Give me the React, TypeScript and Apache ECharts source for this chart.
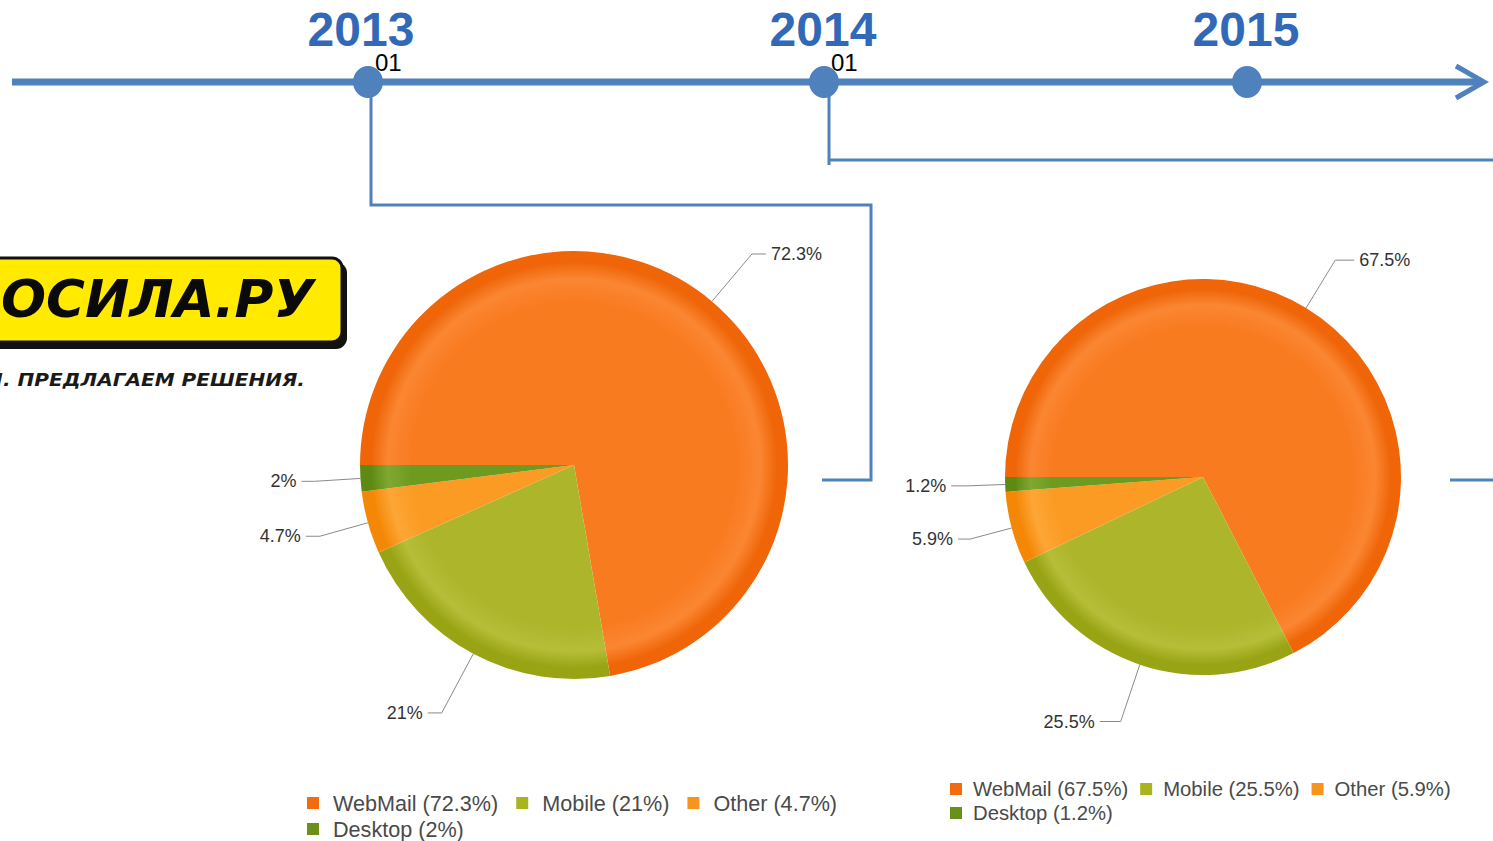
import React, { useEffect, useRef } from 'react';
import * as echarts from 'echarts';

// ---- data ----
const categories = ['WebMail', 'Mobile', 'Other', 'Desktop'];
const share2013 = [72.3, 21, 4.7, 2];
const share2014 = [67.5, 25.5, 5.9, 1.2];
const years = ['2013', '2014', '2015'];
const monthLabels = ['01', '01', ''];

// ---- styling ----
const baseColors = ['#F97B20', '#ADB52B', '#FB9B24', '#6E9A20'];
const lightColors = ['#FB8632', '#B6BD38', '#FDA636', '#80A830'];
const rimColors = ['#EF6508', '#99A414', '#F48806', '#5E8A14'];
const legendColors = ['#F26B0E', '#A8B51E', '#F7941D', '#6A8F1A'];
const blue = '#4F81BD';
const yearBlue = '#3169B8';

// label leader line lengths per slice [length, length2]
const lineLens2013 = [[62, 14], [67, 14], [50, 14], [46, 13]];
const lineLens2014 = [[56, 19], [60, 21], [43, 12], [38, 16]];

const yearX = [368, 824, 1247];
const yearTextX = [361, 823, 1246];

function grad(i: number, cx: number, cy: number, r: number) {
  return new echarts.graphic.RadialGradient(
    cx,
    cy,
    r,
    [
      { offset: 0, color: baseColors[i] },
      { offset: 0.76, color: baseColors[i] },
      { offset: 0.87, color: lightColors[i] },
      { offset: 0.95, color: rimColors[i] },
      { offset: 1, color: rimColors[i] },
    ],
    true
  );
}

function pieSeries(values: number[], lens: number[][], cx: number, cy: number, r: number) {
  return {
    type: 'pie',
    center: [cx, cy],
    radius: r,
    startAngle: 180,
    clockwise: true,
    silent: true,
    data: categories.map((n, i) => ({
      name: n,
      value: values[i],
      itemStyle: { color: grad(i, cx, cy, r) },
      labelLine: { length: lens[i][0], length2: lens[i][1] },
    })),
    label: {
      formatter: '{c}%',
      fontSize: 18,
      color: '#333',
      fontFamily: 'Arial, "Liberation Sans"',
    },
    labelLine: {
      smooth: false,
      lineStyle: { color: '#8a8a8a', width: 1 },
    },
  };
}

function legend(
  names: string[],
  values: number[],
  left: number,
  top: number,
  fontSize: number,
  pad: number,
  gap: number
) {
  return {
    orient: 'horizontal',
    left,
    top,
    padding: 0,
    itemGap: gap,
    itemWidth: 12,
    itemHeight: 12,
    icon: 'rect',
    selectedMode: false,
    data: names.map((n) => ({
      name: n,
      itemStyle: { color: legendColors[categories.indexOf(n)] },
    })),
    formatter: (name: string) => `${name} (${values[categories.indexOf(name)]}%)`,
    textStyle: {
      fontSize,
      color: '#4a4a4a',
      fontFamily: 'Arial, "Liberation Sans"',
      lineHeight: 12,
      padding: [0, 0, 0, pad],
    },
  };
}

export default function App() {
  const ref = useRef<HTMLDivElement>(null);
  useEffect(() => {
    if (!ref.current) return;
    const chart = echarts.init(ref.current, undefined, { renderer: 'svg' });

    const graphics: any[] = [];
    // logo
    graphics.push({
      type: 'rect',
      shape: { x: -20, y: 262, width: 367, height: 87, r: 11 },
      style: { fill: '#111' },
      z: 1,
    });
    graphics.push({
      type: 'rect',
      shape: { x: -20, y: 258, width: 362, height: 84, r: 10 },
      style: { fill: '#FFEA00', stroke: '#111', lineWidth: 3 },
      z: 2,
    });
    graphics.push({
      type: 'text',
      x: 1,
      y: 299,
      scaleX: 1.02,
      style: {
        text: 'ОСИЛА.РУ',
        align: 'left',
        verticalAlign: 'middle',
        font: 'italic bold 52px "DejaVu Sans"',
        fill: '#0a0a0a',
      },
      z: 3,
    });
    graphics.push({
      type: 'text',
      x: 305,
      y: 380,
      scaleX: 1.18,
      style: {
        text: 'Ы. ПРЕДЛАГАЕМ РЕШЕНИЯ.',
        align: 'right',
        verticalAlign: 'middle',
        font: 'italic bold 17px "DejaVu Sans"',
        fill: '#1a1a1a',
      },
      z: 3,
    });

    // timeline
    graphics.push({
      type: 'line',
      shape: { x1: 12, y1: 82, x2: 1481, y2: 82 },
      style: { stroke: blue, lineWidth: 7 },
    });
    graphics.push({
      type: 'polyline',
      shape: { points: [[1456, 66], [1484, 82], [1456, 98]] },
      style: { stroke: blue, lineWidth: 5, fill: null },
    });
    // brackets
    graphics.push({
      type: 'polyline',
      shape: { points: [[371, 82], [371, 205], [871, 205], [871, 480], [822, 480]] },
      style: { stroke: blue, lineWidth: 3, fill: null },
    });
    graphics.push({
      type: 'polyline',
      shape: { points: [[829, 82], [829, 165]] },
      style: { stroke: blue, lineWidth: 3, fill: null },
    });
    graphics.push({
      type: 'line',
      shape: { x1: 829, y1: 160, x2: 1493, y2: 160 },
      style: { stroke: blue, lineWidth: 3 },
    });
    graphics.push({
      type: 'line',
      shape: { x1: 1450, y1: 480, x2: 1493, y2: 480 },
      style: { stroke: blue, lineWidth: 3 },
    });

    years.forEach((y, i) => {
      graphics.push({
        type: 'ellipse',
        shape: { cx: yearX[i], cy: 82, rx: 15, ry: 16 },
        style: { fill: blue },
        z: 5,
      });
      graphics.push({
        type: 'text',
        x: yearTextX[i],
        y: 29,
        style: {
          text: y,
          align: 'center',
          verticalAlign: 'middle',
          font: 'bold 48px Arial, "Liberation Sans"',
          lineHeight: 34,
          fill: yearBlue,
        },
      });
      if (monthLabels[i]) {
        graphics.push({
          type: 'text',
          x: yearX[i] + 7,
          y: 62,
          style: {
            text: monthLabels[i],
            align: 'left',
            verticalAlign: 'middle',
            font: '24px Arial, "Liberation Sans"',
            lineHeight: 18,
            fill: '#000',
          },
          z: 6,
        });
      }
    });

    const rowA = ['WebMail', 'Mobile', 'Other'];
    const rowB = ['Desktop'];

    chart.setOption({
      animation: false,
      backgroundColor: '#fff',
      legend: [
        legend(rowA, share2013, 307, 792, 21.6, 9, 18),
        legend(rowB, share2013, 307, 818, 21.6, 9, 18),
        legend(rowA, share2014, 950, 779, 20.3, 6, 12),
        legend(rowB, share2014, 950, 803, 20.3, 6, 12),
      ],
      series: [
        pieSeries(share2013, lineLens2013, 574, 465, 214),
        pieSeries(share2014, lineLens2014, 1203, 477, 198),
      ],
      graphic: graphics,
    });
    return () => chart.dispose();
  }, []);
  return (
    <div
      ref={ref}
      style={{ position: 'fixed', left: 0, top: 0, width: 1493, height: 841 }}
    />
  );
}
